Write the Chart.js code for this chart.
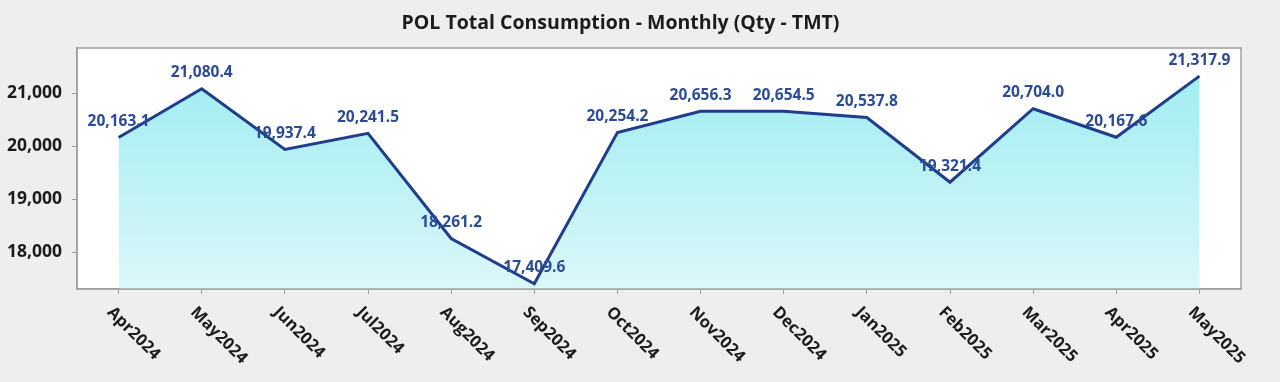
<!DOCTYPE html>
<html>
<head>
<meta charset="utf-8">
<script src="https://cdn.jsdelivr.net/npm/chart.js@4.4.1/dist/chart.umd.min.js"></script>
<style>
html,body{margin:0;padding:0;background:#eeeeee;}
#wrap{width:1280px;height:382px;position:relative;}
</style>
</head>
<body>
<div id="wrap"><canvas id="c" width="1280" height="382"></canvas></div>
<script>
const titleText = "POL Total Consumption - Monthly (Qty - TMT)";
const categories = ["Apr2024","May2024","Jun2024","Jul2024","Aug2024","Sep2024","Oct2024","Nov2024","Dec2024","Jan2025","Feb2025","Mar2025","Apr2025","May2025"];
const consumption = [20163.1,21080.4,19937.4,20241.5,18261.2,17409.6,20254.2,20656.3,20654.5,20537.8,19321.4,20704.0,20167.6,21317.9];
const yTicks = [18000,19000,20000,21000];
const yMin = 17311, yMax = 21847;

const FONT = "'Open Sans', 'DejaVu Sans', sans-serif";

const plotBg = {
  id:'plotBg',
  beforeDraw(chart){
    const {ctx, chartArea:a} = chart;
    ctx.save(); ctx.fillStyle = '#ffffff';
    ctx.fillRect(a.left, a.top, a.right-a.left, a.bottom-a.top);
    ctx.restore();
  },
  afterDraw(chart){
    const {ctx, chartArea:a} = chart;
    ctx.save(); ctx.strokeStyle = '#a0a0a0'; ctx.lineWidth = 1.5;
    ctx.strokeRect(a.left, a.top, a.right-a.left, a.bottom-a.top);
    ctx.restore();
  }
};

const valueLabels = {
  id:'valueLabels',
  afterDatasetsDraw(chart){
    const {ctx} = chart;
    const meta = chart.getDatasetMeta(0);
    ctx.save();
    ctx.font = "bold 15.5px " + FONT;
    ctx.fillStyle = '#2a4b97';
    ctx.textAlign = 'center'; ctx.textBaseline = 'middle';
    meta.data.forEach((pt,i)=>{
      const v = chart.data.datasets[0].data[i];
      const s = v.toLocaleString('en-US',{minimumFractionDigits:1, maximumFractionDigits:1});
      ctx.fillText(s, pt.x, pt.y - 16);
    });
    ctx.restore();
  }
};

const xLabels = {
  id:'xLabels',
  afterDraw(chart){
    const {ctx} = chart;
    const xs = chart.scales.x;
    ctx.save();
    ctx.font = "bold 16.5px " + FONT;
    ctx.fillStyle = '#1c1c1c';
    ctx.textAlign = 'left'; ctx.textBaseline = 'alphabetic';
    chart.data.labels.forEach((lab,i)=>{
      const x = xs.getPixelForTick(i);
      ctx.save();
      ctx.translate(x - 12, xs.top + 24);
      ctx.rotate(Math.PI/4);
      ctx.fillText(lab, 0, 0);
      ctx.restore();
    });
    ctx.restore();
  }
};

new Chart(document.getElementById('c'), {
  type:'line',
  data:{
    labels: categories,
    datasets:[{
      data: consumption,
      borderColor:'#1f3d8c',
      borderWidth:3,
      pointRadius:0,
      tension:0,
      fill:'start',
      backgroundColor(ctx){
        const a = ctx.chart.chartArea;
        if(!a) return '#b0f0f4';
        const g = ctx.chart.ctx.createLinearGradient(0, a.top, 0, a.bottom);
        g.addColorStop(0,'#98ecf1');
        g.addColorStop(1,'#dcf7f9');
        return g;
      }
    }]
  },
  options:{
    responsive:false,
    animation:false,
    layout:{padding:{left:0,right:39,top:0,bottom:0}},
    plugins:{
      legend:{display:false},
      tooltip:{enabled:false},
      title:{
        display:true, text:titleText, color:'#1c1c1c',
        font:{family:FONT, size:19.5, weight:'bold', lineHeight:1.2},
        padding:{top:11.3,bottom:13.3}
      }
    },
    scales:{
      x:{
        offset:true,
        grid:{display:true, drawOnChartArea:false, tickLength:5, color:'#a0a0a0', offset:false},
        border:{display:true, color:'#a0a0a0', width:1.5},
        ticks:{display:false},
        afterFit(s){ s.height = 93; }
      },
      y:{
        min:yMin, max:yMax,
        afterBuildTicks(s){ s.ticks = yTicks.map(v=>({value:v})); },
        grid:{display:true, drawOnChartArea:false, tickLength:5, color:'#a0a0a0'},
        border:{display:true, color:'#a0a0a0', width:1.5},
        ticks:{
          padding:10, color:'#1c1c1c',
          font:{family:FONT, size:17.5, weight:'bold'},
          callback:(v)=>Number(v).toLocaleString('en-US')
        },
        afterFit(s){ s.width = 77; }
      }
    }
  },
  plugins:[plotBg, valueLabels, xLabels]
});
</script>
</body>
</html>
